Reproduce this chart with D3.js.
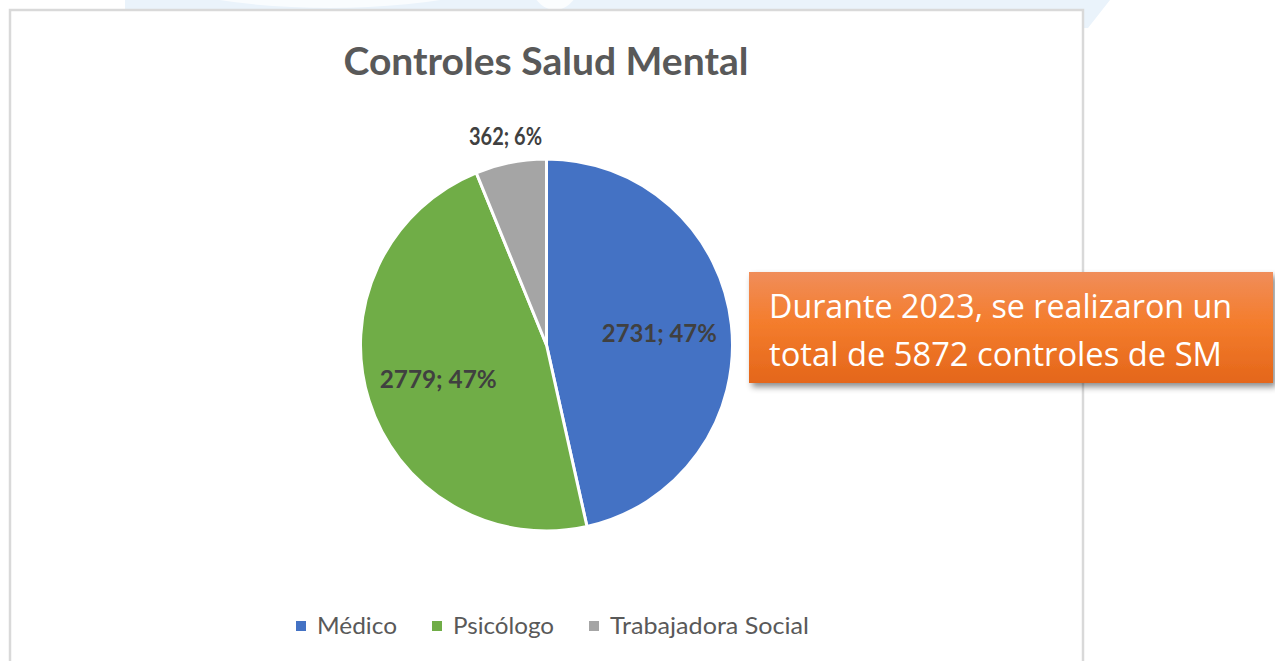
<!DOCTYPE html>
<html>
<head>
<meta charset="utf-8">
<script src="https://cdn.jsdelivr.net/npm/d3@7"></script>
<style>
  html, body { margin: 0; padding: 0; background: #fff; }
  svg { display: block; }
</style>
</head>
<body>
<svg id="chart" width="1275" height="661"></svg>
<script>
'use strict'

// data
const categories = ['Médico', 'Psicólogo', 'Trabajadora Social']
const counts = [2731, 2779, 362]
const colors = ['#4472c4', '#70ad47', '#a5a5a5']
const title = 'Controles Salud Mental'
const note = ['Durante 2023, se realizaron un', 'total de 5872 controles de SM']

const total = d3.sum(counts)
const pct = d3.format('.0%')

const svg = d3.select('#chart')
const font = 'Lato, "Open Sans", sans-serif'

const defs = svg.append('defs')
const grad = defs.append('linearGradient')
	.attr('id', 'orange')
	.attr('x1', 0).attr('y1', 0).attr('x2', 0).attr('y2', 1)
grad.append('stop').attr('offset', '0%').attr('stop-color', '#f08d5a')
grad.append('stop').attr('offset', '45%').attr('stop-color', '#f47d2d')
grad.append('stop').attr('offset', '100%').attr('stop-color', '#e4661a')

const shadow = defs.append('filter')
	.attr('id', 'shadow')
	.attr('x', '-5%').attr('y', '-20%').attr('width', '115%').attr('height', '150%')
shadow.append('feDropShadow')
	.attr('dx', 3).attr('dy', 4)
	.attr('stdDeviation', 3)
	.attr('flood-color', '#000')
	.attr('flood-opacity', 0.45)

// faint slide decoration above the chart frame
svg.append('path')
	.attr('d', 'M125,0 L1110,0 L1088,28 L1083,28 L1083,12 L125,12 Z')
	.attr('fill', '#eaf3fb')
svg.append('ellipse')
	.attr('cx', 330).attr('cy', -40).attr('rx', 200).attr('ry', 48)
	.attr('fill', '#ffffff').attr('opacity', 0.7)
svg.append('ellipse')
	.attr('cx', 555).attr('cy', -30).attr('rx', 28).attr('ry', 40)
	.attr('fill', '#ffffff').attr('opacity', 0.8)

// chart frame
svg.append('rect')
	.attr('x', 10).attr('y', 10)
	.attr('width', 1073).attr('height', 670)
	.attr('fill', '#ffffff')
	.attr('stroke', '#d9d9d9')
	.attr('stroke-width', 2.5)

svg.append('text')
	.attr('x', 546).attr('y', 75)
	.attr('text-anchor', 'middle')
	.attr('font-family', font)
	.attr('font-weight', 'bold')
	.attr('font-size', 38)
	.attr('fill', '#595959')
	.attr('textLength', 405)
	.attr('lengthAdjust', 'spacingAndGlyphs')
	.text(title)

// pie
const cx = 546.5, cy = 345, R = 186

const pie = d3.pie().sort(null).value(d => d.value)
const arcs = pie(categories.map((c, i) => ({ name: c, value: counts[i], color: colors[i] })))

const arc = d3.arc().innerRadius(0).outerRadius(R)
const inLabel = d3.arc().innerRadius(R * 0.61).outerRadius(R * 0.61)
const outLabel = d3.arc().innerRadius(R + 27).outerRadius(R + 27)

const g = svg.append('g').attr('transform', 'translate(' + cx + ',' + cy + ')')

g.selectAll('path.slice')
	.data(arcs)
	.enter()
	.append('path')
	.attr('class', 'slice')
	.attr('d', arc)
	.attr('fill', d => d.data.color)
	.attr('stroke', '#ffffff')
	.attr('stroke-width', 3)
	.attr('stroke-linejoin', 'round')

const labelWidths = [115, 117, 73]

g.selectAll('text.lbl')
	.data(arcs)
	.enter()
	.append('text')
	.attr('class', 'lbl')
	.attr('transform', d => {
		const p = d.value / total < 0.1 ? outLabel.centroid(d) : inLabel.centroid(d)
		return 'translate(' + p[0] + ',' + p[1] + ')'
	})
	.attr('dy', '0.36em')
	.attr('text-anchor', 'middle')
	.attr('font-family', font)
	.attr('font-weight', 'bold')
	.attr('font-size', 25)
	.attr('fill', '#404040')
	.attr('textLength', (d, i) => labelWidths[i])
	.attr('lengthAdjust', 'spacingAndGlyphs')
	.text(d => d.value + '; ' + pct(d.value / total))

// legend
const legendX = [296, 432, 589]
const legendW = [80, 101, 199]

const legend = svg.append('g')
	.selectAll('g')
	.data(categories)
	.enter()
	.append('g')
	.attr('transform', (d, i) => 'translate(' + legendX[i] + ',626)')

legend.append('rect')
	.attr('x', 0).attr('y', -5)
	.attr('width', 10).attr('height', 10)
	.attr('fill', (d, i) => colors[i])

legend.append('text')
	.attr('x', 21)
	.attr('dy', '0.36em')
	.attr('font-family', font)
	.attr('font-size', 23)
	.attr('fill', '#595959')
	.attr('textLength', (d, i) => legendW[i])
	.attr('lengthAdjust', 'spacingAndGlyphs')
	.text(d => d)

// orange call-out
svg.append('rect')
	.attr('x', 749).attr('y', 272)
	.attr('width', 524).attr('height', 111)
	.attr('fill', 'url(#orange)')
	.attr('filter', 'url(#shadow)')

const noteW = [463, 453]
svg.append('g')
	.selectAll('text')
	.data(note)
	.enter()
	.append('text')
	.attr('x', 769)
	.attr('y', (d, i) => 318 + i * 48)
	.attr('font-family', '"Open Sans", Lato, sans-serif')
	.attr('font-size', 33)
	.attr('fill', '#ffffff')
	.attr('textLength', (d, i) => noteW[i])
	.attr('lengthAdjust', 'spacingAndGlyphs')
	.text(d => d)
</script>
</body>
</html>
